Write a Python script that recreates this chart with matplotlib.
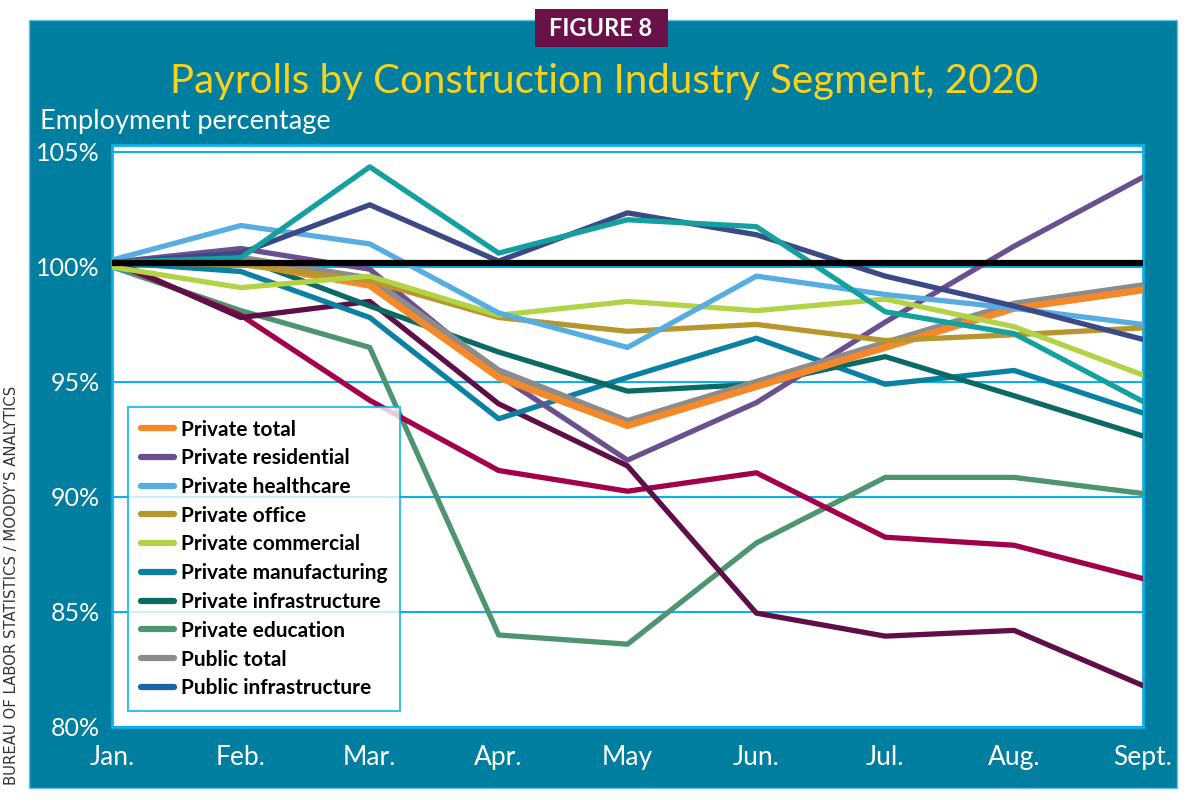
import matplotlib
matplotlib.use("Agg")
import matplotlib.pyplot as plt
from matplotlib.lines import Line2D
from matplotlib.patches import Rectangle

# data (employment, % of January level)
months = ["Jan.", "Feb.", "Mar.", "Apr.", "May", "Jun.", "Jul.", "Aug.", "Sept."]

private_total = [100.2, 100.2, 99.2, 95.2, 93.1, 94.8, 96.5, 98.2, 99.0]
private_residential = [100.2, 100.8, 99.9, 95.3, 91.6, 94.1, 97.6, 100.9, 103.9]
private_healthcare = [100.3, 101.8, 101.0, 98.0, 96.5, 99.6, 98.8, 98.2, 97.5]
private_office = [100.2, 100.1, 99.4, 97.8, 97.2, 97.5, 96.8, 97.05, 97.35]
private_commercial = [100.0, 99.1, 99.6, 97.9, 98.5, 98.1, 98.6, 97.4, 95.3]
private_manufacturing = [100.2, 99.8, 97.8, 93.4, 95.2, 96.9, 94.9, 95.5, 93.65]
private_infrastructure = [100.2, 100.4, 98.3, 96.3, 94.6, 94.9, 96.1, 94.4, 92.65]
private_education = [100.0, 98.1, 96.5, 84.0, 83.6, 88.0, 90.85, 90.85, 90.15]
public_total = [100.2, 100.4, 99.5, 95.5, 93.3, 95.0, 96.7, 98.4, 99.2]
total = [100.15, 100.15, 100.15, 100.15, 100.15, 100.15, 100.15, 100.15, 100.15]
other_teal = [100.2, 100.4, 104.35, 100.6, 102.05, 101.75, 98.05, 97.1, 94.15]
other_navy = [100.2, 100.6, 102.7, 100.25, 102.35, 101.4, 99.6, 98.3, 96.85]
other_crimson = [100.2, 97.9, 94.2, 91.15, 90.25, 91.05, 88.25, 87.9, 86.45]
other_maroon = [100.3, 97.8, 98.5, 94.05, 91.35, 84.95, 83.95, 84.2, 81.8]

legend_labels = ["Private total", "Private residential", "Private healthcare", "Private office",
                 "Private commercial", "Private manufacturing", "Private infrastructure",
                 "Private education", "Public total", "Public infrastructure"]
legend_colors = ["#f5892a", "#6b4f8e", "#56ade2", "#b7962b", "#b3d347",
                 "#0a81a2", "#0b6b64", "#4f9470", "#8c8c8c", "#1a64a8"]

teal_bg = "#007ea0"
grid_blue = "#0cb0ea"

plt.rcParams['font.family'] = ['Lato', 'DejaVu Sans']

fig = plt.figure(figsize=(11.88, 8.06), dpi=100)

# background panel and figure tag
fig.add_artist(Rectangle((29/1188, 1-788/806), (1177-29)/1188, (788-20)/806,
                         transform=fig.transFigure, facecolor=teal_bg,
                         edgecolor="#5ec2e0", linewidth=1, zorder=-5))
fig.add_artist(Rectangle((535/1188, 1-47/806), 133/1188, 38/806,
                         transform=fig.transFigure, facecolor="#6a1149",
                         edgecolor="none", zorder=-4))
fig.text(601/1188, 1-28/806, "FIGURE 8", color="white", fontsize=17, fontweight="bold",
         ha="center", va="center")
fig.text(604/1188, 1-81/806, "Payrolls by Construction Industry Segment, 2020",
         color="#f8d11c", fontsize=29, ha="center", va="center")
fig.text(40/1188, 1-122/806, "Employment percentage", color="white", fontsize=19.5,
         ha="left", va="center")
fig.text(12/1188, 1-585/806, "BUREAU OF LABOR STATISTICS / MOODY\u2019S ANALYTICS",
         color="#333333", fontsize=10.7, rotation=90, ha="center", va="center",
         family=["DejaVu Sans"])

ax = fig.add_axes([112/1188, 1-727/806, (1143-112)/1188, (727-145)/806])
ax.set_zorder(1)
ax.set_facecolor("white")
x = list(range(len(months)))

ax.plot(x, private_education, color="#4f9470", lw=3.8, zorder=3)
ax.plot(x, other_crimson, color="#a3004b", lw=3.8, zorder=3)
ax.plot(x, other_maroon, color="#5f0f47", lw=3.8, zorder=3)
ax.plot(x, private_manufacturing, color="#0a81a2", lw=3.8, zorder=3)
ax.plot(x, private_infrastructure, color="#0b6b64", lw=3.8, zorder=3)
ax.plot(x, private_residential, color="#6b4f8e", lw=3.8, zorder=3)
ax.plot(x, public_total, color="#8c8c8c", lw=4.5, zorder=3)
ax.plot(x, private_total, color="#f5892a", lw=5, zorder=3)
ax.plot(x, private_office, color="#b7962b", lw=3.8, zorder=3)
ax.plot(x, private_commercial, color="#b3d347", lw=3.8, zorder=3)
ax.plot(x, private_healthcare, color="#56ade2", lw=3.8, zorder=3)
ax.plot(x, other_navy, color="#3b4a86", lw=3.8, zorder=3)
ax.plot(x, other_teal, color="#14a09e", lw=3.8, zorder=3)
ax.plot(x, total, color="black", lw=4.5, zorder=4)

ax.set_xlim(0, len(months) - 1)
ax.set_ylim(80, 105.3)
ax.set_yticks([80, 85, 90, 95, 100, 105])
ax.set_yticklabels(["80%", "85%", "90%", "95%", "100%", "105%"])
ax.set_xticks(x)
ax.set_xticklabels(months)
ax.tick_params(axis="both", length=0, colors="white")
ax.tick_params(axis="y", pad=9, labelsize=18)
ax.tick_params(axis="x", pad=13, labelsize=19)
ax.grid(axis="y", color=grid_blue, lw=1.5, zorder=1)
for s in ax.spines.values():
    s.set_color(grid_blue)
    s.set_linewidth(2)

handles = [Line2D([0], [0], color=c, lw=4.5, solid_capstyle="round") for c in legend_colors]
leg = ax.legend(handles, legend_labels, loc="upper left",
                bbox_to_anchor=((128-112)/1031, (727-407)/582),
                prop={"weight": "bold", "size": 15}, frameon=True, fancybox=False,
                handlelength=1.6, handletextpad=0.35, labelspacing=0.42,
                borderpad=0.6, borderaxespad=0)
leg.get_frame().set_edgecolor(grid_blue)
leg.get_frame().set_linewidth(1.5)
leg.set_zorder(5)

plt.savefig("out.png", dpi=100)
